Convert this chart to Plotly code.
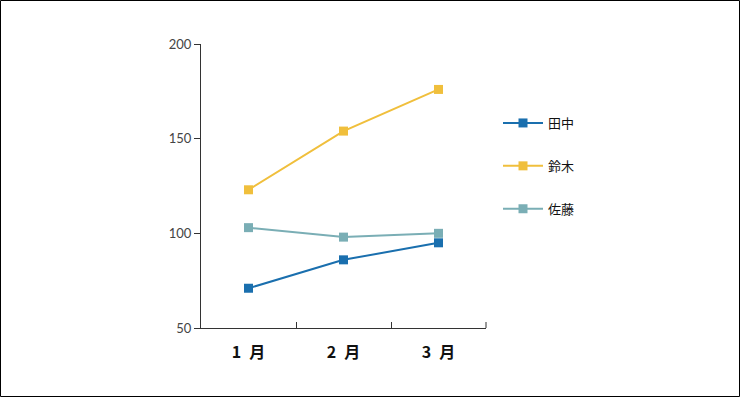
import plotly.graph_objects as go

months = ["1\u2002月", "2\u2002月", "3\u2002月"]
names = ["田中", "鈴木", "佐藤"]
tanaka = [71, 86, 95]
suzuki = [123, 154, 176]
sato = [103, 98, 100]
colors = ["#1a6fae", "#f0bf3c", "#7aaeb5"]
yticks = [50, 100, 150, 200]

W, H = 740, 397
L, R, T, B = 201, 486, 44, 328

fig = go.Figure()
for i, (nm, vals) in enumerate(zip(names, [tanaka, suzuki, sato])):
    fig.add_trace(go.Scatter(
        x=months, y=vals, name=nm, mode="lines+markers",
        line=dict(color=colors[i], width=2),
        marker=dict(symbol="square", size=9, color=colors[i]),
        legendgroup=nm,
    ))

def px2paper_x(p):
    return (p - L) / (R - L)

def px2paper_y(p):
    return (B - p) / (B - T)

fig.add_shape(type="rect", xref="paper", yref="paper",
              x0=px2paper_x(0.5), x1=px2paper_x(W - 0.5),
              y0=px2paper_y(H - 0.5), y1=px2paper_y(0.5),
              line=dict(color="black", width=1), layer="below")
# closing tick at the right end of the category axis
fig.add_shape(type="line", xref="paper", yref="paper",
              x0=1, x1=1, y0=0, y1=px2paper_y(B - 6),
              line=dict(color="#333", width=1))

fig.update_layout(
    width=W, height=H,
    margin=dict(l=L, r=W - R, t=T, b=H - B),
    paper_bgcolor="white", plot_bgcolor="white",
    font=dict(family="Noto Sans CJK JP", color="#222"),
    showlegend=True,
    legend=dict(x=px2paper_x(498), y=px2paper_y(108), xanchor="left", yanchor="top",
                font=dict(size=13, color="#111"), tracegroupgap=23,
                itemwidth=40,
                bgcolor="rgba(0,0,0,0)"),
    xaxis=dict(type="category", range=[-0.5, 2.5], showline=True, linecolor="#333", linewidth=1,
               ticks="inside", ticklen=6, tickcolor="#333", tickson="boundaries",
               showgrid=False, zeroline=False,
               tickfont=dict(size=16, color="#111", weight="bold"), ticklabelstandoff=10),
    yaxis=dict(range=[50, 200], tickvals=yticks, showline=True, linecolor="#333",
               linewidth=1, ticks="outside", ticklen=6, tickcolor="#333",
               showgrid=False, zeroline=False,
               tickfont=dict(size=13, color="#444", family="Lato")),
)

fig.write_html("out.html", config={"displayModeBar": False},
               post_script="document.body.style.margin='0';document.body.style.overflow='hidden';")
